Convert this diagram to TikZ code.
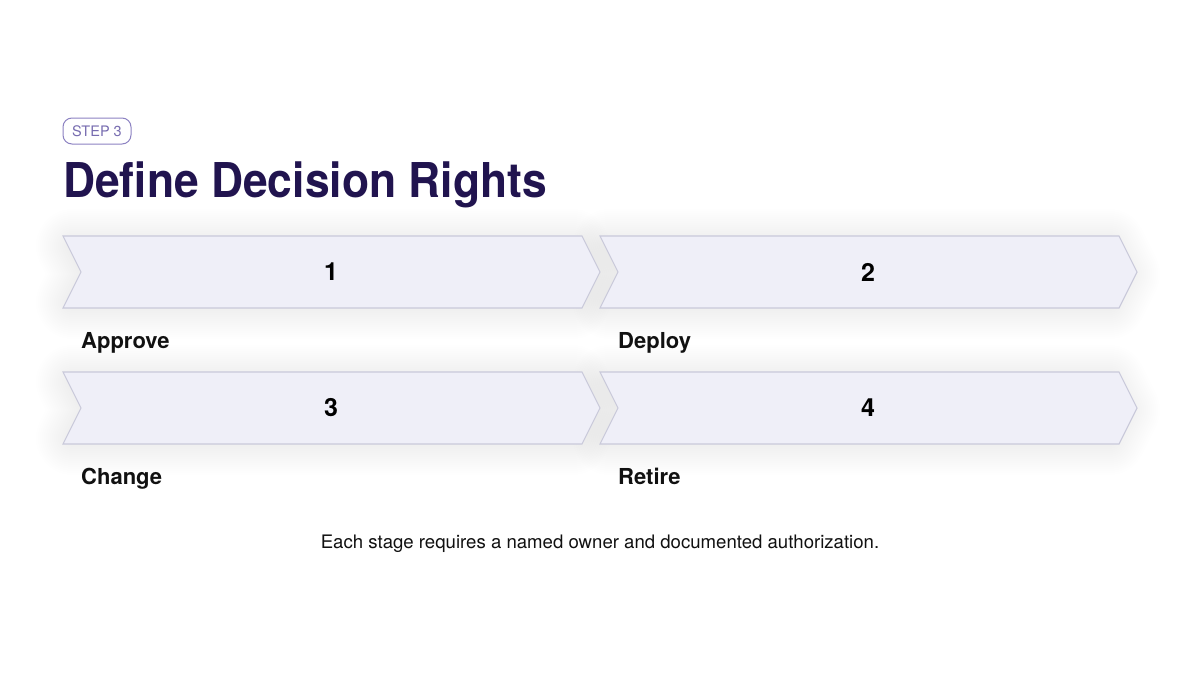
\documentclass[tikz,border=0pt]{standalone}
\usepackage{fontspec}
\setmainfont{TeX Gyre Heros}
\definecolor{chevfill}{HTML}{EFEFF8}
\definecolor{chevline}{HTML}{C9C9DA}
\definecolor{titlecol}{HTML}{21144F}
\definecolor{pillcol}{HTML}{8C82C2}
\definecolor{pilltext}{HTML}{776CB0}
\definecolor{bodytext}{HTML}{111111}
\tikzset{
  chev/.style={fill=chevfill, draw=chevline, line width=1.1pt, line join=miter},
  shad/.style={draw=black, fill=black, line join=round, opacity=0.0045},
  num/.style={font=\fontsize{25}{28}\selectfont\bfseries, text=black},
  lbl/.style={font=\fontsize{22}{26}\selectfont\bfseries, text=bodytext, anchor=base west, inner sep=0pt},
}
\begin{document}
\begin{tikzpicture}[x=1pt,y=-1pt]
\useasboundingbox[fill=white] (0,0) rectangle (1200,675);
% shadows
\foreach \x/\y in {63/236, 600/236, 63/372, 600/372}{
  \foreach \w in {2,6,...,74}{
    \path[shad, line width=\w pt] ({\x+10},{\y+10}) -- ++(499,0) -- ++(14,28) -- ++(-14,28) -- ++(-499,0) -- ++(14,-28) -- cycle;
  }
}
% pill
\node[draw=pillcol, line width=1pt, rounded corners=9pt, minimum width=68pt, minimum height=26pt, inner sep=0pt, text=pilltext, font=\fontsize{14.5}{16}\selectfont] (pill) at (97,131) {STEP 3};
% title
\node[anchor=base west, inner sep=0pt, text=titlecol, font=\fontsize{48}{52}\selectfont\bfseries] (title) at (63,197) {\scalebox{0.925}[1]{Define Decision Rights}};
% chevrons
\foreach \x/\y/\n/\lab/\nm in {63/236/1/Approve/a, 600/236/2/Deploy/b, 63/372/3/Change/c, 600/372/4/Retire/d}{
  \path[chev] (\x,\y) -- ++(519,0) -- ++(18,36) -- ++(-18,36) -- ++(-519,0) -- ++(18,-36) -- cycle;
  \node[num] (n\nm) at ({\x+268},{\y+36}) {\n};
  \node[lbl] (l\nm) at ({\x+18},{\y+112}) {\lab};
}
% caption
\node[anchor=base, inner sep=0pt, text=bodytext, font=\fontsize{18.6}{22}\selectfont] (cap) at (600,548) {Each stage requires a named owner and documented authorization.};
\end{tikzpicture}
\end{document}
